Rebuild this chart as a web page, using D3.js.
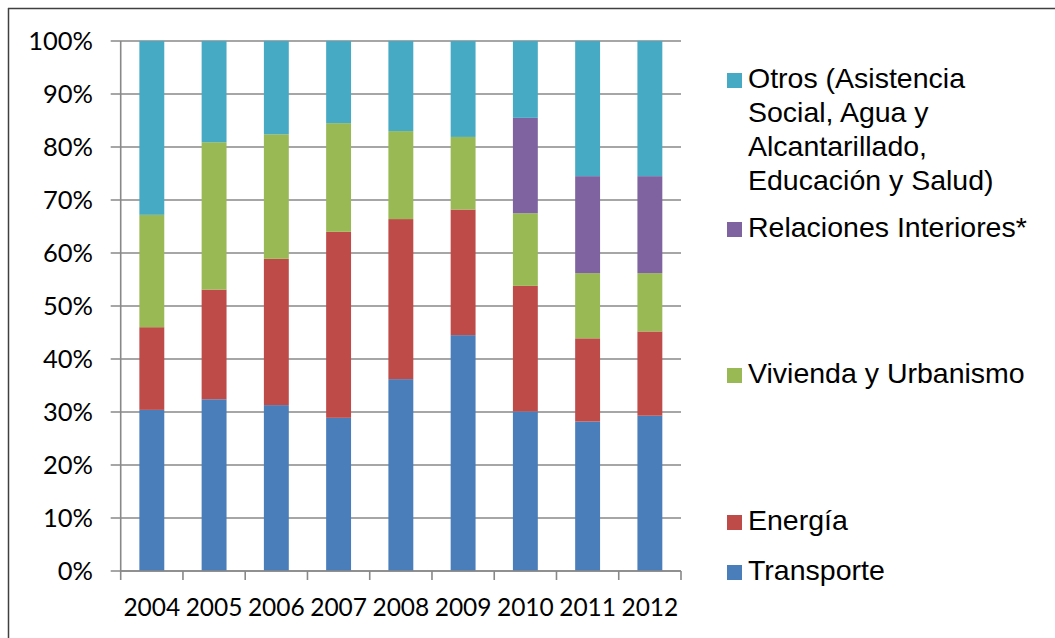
<!DOCTYPE html>
<html>
<head>
<meta charset="utf-8">
<script src="https://cdn.jsdelivr.net/npm/d3@7"></script>
<style>
  body { margin: 0; background: #fff; }
  svg { display: block; }
</style>
</head>
<body>
<div id="chart"></div>
<script>
// data (percent share per year)
var years = ["2004","2005","2006","2007","2008","2009","2010","2011","2012"];
var transporte = [30.4, 32.4, 31.3, 28.9, 36.2, 44.5, 30.1, 28.2, 29.3];
var energia    = [15.6, 20.7, 27.6, 35.1, 30.2, 23.7, 23.7, 15.7, 15.9];
var vivienda   = [21.2, 27.8, 23.5, 20.5, 16.6, 13.7, 13.7, 12.3, 11.0];
var relaciones = [0, 0, 0, 0, 0, 0, 18.0, 18.3, 18.3];
var otros      = [32.8, 19.1, 17.6, 15.5, 17.0, 18.1, 14.5, 25.5, 25.5];
var yTicks = [0, 10, 20, 30, 40, 50, 60, 70, 80, 90, 100];

var seriesKeys = ["transporte","energia","vivienda","relaciones","otros"];
var colors = ["#4a7ebb", "#be4b48", "#98b954", "#7f63a1", "#46aac5"];

var width = 1055, height = 638;
var svg = d3.select("#chart").append("svg").attr("width", width).attr("height", height);

// outer frame (only top & left visible in the original)
svg.append("line").attr("x1", 8).attr("y1", 8.5).attr("x2", width).attr("y2", 8.5)
  .attr("stroke", "#404040").attr("stroke-width", 1.5);
svg.append("line").attr("x1", 8.5).attr("y1", 8).attr("x2", 8.5).attr("y2", height)
  .attr("stroke", "#404040").attr("stroke-width", 1.5);

var x0 = 120.7, x1 = 681, yTop = 41, yBot = 571;

var table = years.map(function(y, i){
  return {year: y, transporte: transporte[i], energia: energia[i], vivienda: vivienda[i],
          relaciones: relaciones[i], otros: otros[i]};
});
var stacked = d3.stack().keys(seriesKeys)(table);

var x = d3.scaleBand().domain(years).range([x0, x1]).paddingInner(0.6).paddingOuter(0.3);
var xb = d3.scaleBand().domain(years).range([x0, x1]);
var y = d3.scaleLinear().domain([0, 100]).range([yBot, yTop]);

// gridlines
svg.append("g").selectAll("line").data(yTicks).enter().append("line")
  .attr("x1", x0 - 10).attr("x2", x1)
  .attr("y1", function(d){ return y(d); }).attr("y2", function(d){ return y(d); })
  .attr("stroke", "#888").attr("stroke-width", 1.6);

// y axis line
svg.append("line").attr("x1", x0).attr("x2", x0).attr("y1", yTop).attr("y2", yBot)
  .attr("stroke", "#888").attr("stroke-width", 1.6);

// bars
svg.append("g").selectAll("g").data(stacked).enter().append("g")
  .attr("fill", function(d, i){ return colors[i]; })
  .selectAll("rect").data(function(d){ return d; }).enter().append("rect")
  .attr("x", function(d){ return x(d.data.year); })
  .attr("width", x.bandwidth())
  .attr("y", function(d){ return y(d[1]); })
  .attr("height", function(d){ return y(d[0]) - y(d[1]); });

// x axis line + ticks
svg.append("line").attr("x1", x0).attr("x2", x1).attr("y1", yBot).attr("y2", yBot)
  .attr("stroke", "#888").attr("stroke-width", 1.6);
var tickXs = years.map(function(d){ return xb(d); }).concat([x1]);
svg.append("g").selectAll("line").data(tickXs).enter().append("line")
  .attr("x1", function(d){ return d; }).attr("x2", function(d){ return d; })
  .attr("y1", yBot).attr("y2", yBot + 9)
  .attr("stroke", "#888").attr("stroke-width", 1.6);

// y labels
svg.append("g").selectAll("text").data(yTicks).enter().append("text")
  .attr("x", 93).attr("y", function(d){ return y(d); })
  .attr("dy", "0.35em").attr("text-anchor", "end")
  .style("font-family", "Lato, sans-serif").style("font-size", "25.5px").attr("fill", "#000")
  .text(function(d){ return d + "%"; });

// x labels
svg.append("g").selectAll("text").data(years).enter().append("text")
  .attr("x", function(d){ return xb(d) + xb.bandwidth() / 2; }).attr("y", 616)
  .attr("text-anchor", "middle")
  .style("font-family", "Lato, sans-serif").style("font-size", "24.5px").attr("fill", "#000")
  .text(function(d){ return d; });

// legend
var legendItems = [
  {i: 4, lines: ["Otros (Asistencia", "Social, Agua y", "Alcantarillado,", "Educación y Salud)"], base: 88},
  {i: 3, lines: ["Relaciones Interiores*"], base: 237},
  {i: 2, lines: ["Vivienda y Urbanismo"], base: 383},
  {i: 1, lines: ["Energía"], base: 530},
  {i: 0, lines: ["Transporte"], base: 580}
];
var lg = svg.append("g").selectAll("g").data(legendItems).enter().append("g");
lg.append("rect").attr("x", 727).attr("width", 15).attr("height", 15)
  .attr("y", function(d){ return d.base - 15; })
  .attr("fill", function(d){ return colors[d.i]; });
lg.append("text")
  .style("font-family", "'Liberation Sans', Arial, sans-serif").style("font-size", "28.5px")
  .attr("fill", "#000")
  .selectAll("tspan").data(function(d){ return d.lines.map(function(l, k){ return {t: l, y: d.base + k * 34}; }); })
  .enter().append("tspan")
  .attr("x", 748).attr("y", function(d){ return d.y; })
  .text(function(d){ return d.t; });
</script>
</body>
</html>
